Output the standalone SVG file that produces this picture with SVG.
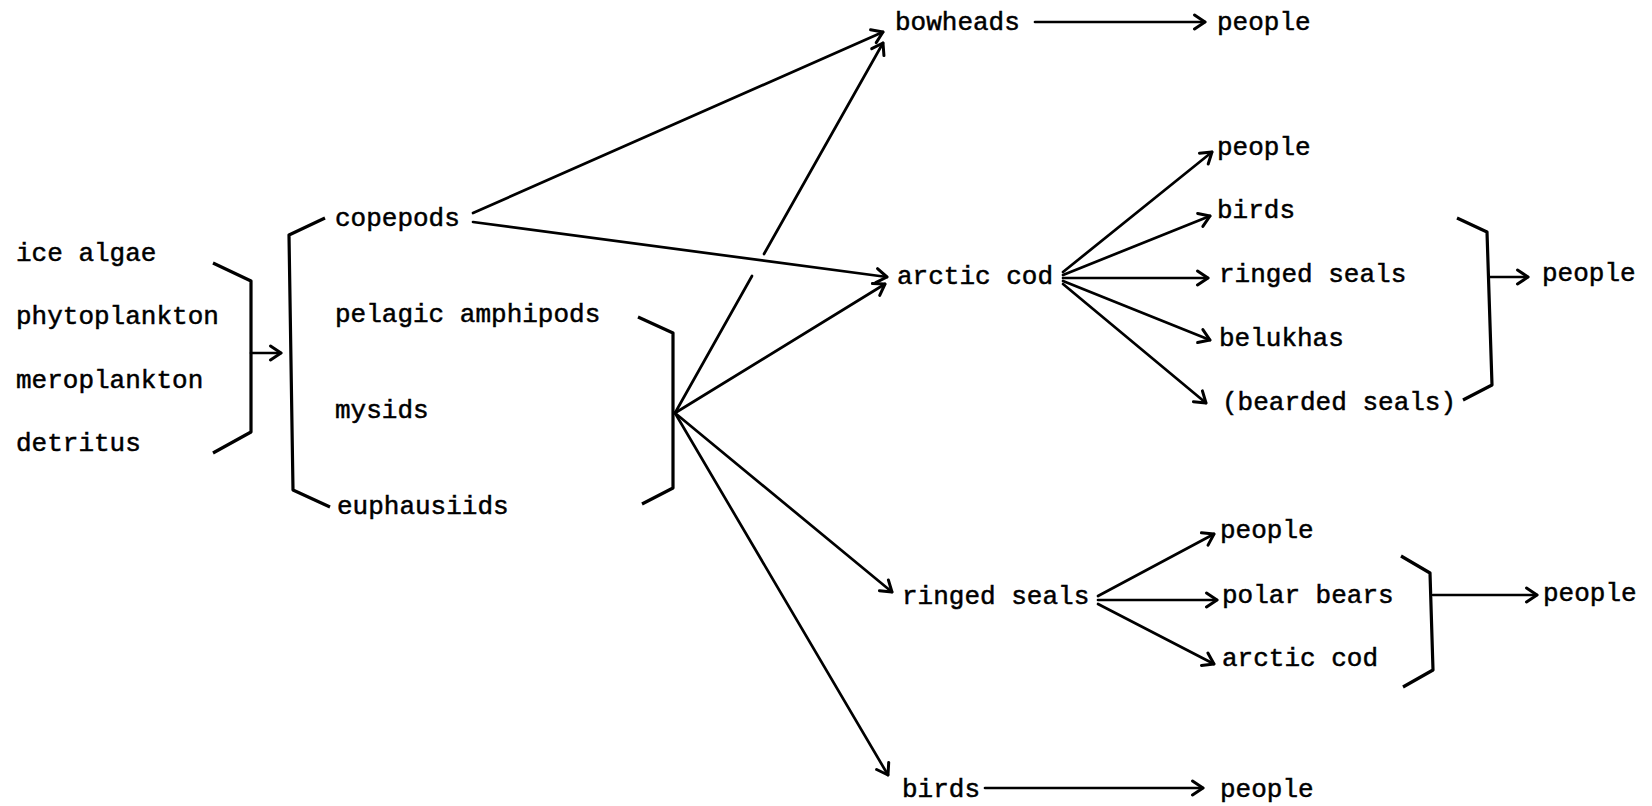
<svg xmlns="http://www.w3.org/2000/svg" width="1652" height="806" viewBox="0 0 1652 806">
<style>
text{font-family:"Liberation Mono","Courier New",monospace;font-size:26px;fill:#000;stroke:#000;stroke-width:0.5}
.ln{fill:none;stroke:#000;stroke-width:2.7;stroke-linecap:round;stroke-linejoin:round}
.br{fill:none;stroke:#000;stroke-width:3.2;stroke-linejoin:round}
.ar{marker-end:url(#ah)}
</style>
<defs>
<marker id="ah" viewBox="0 0 15 18" refX="13" refY="9" markerWidth="15" markerHeight="18" markerUnits="userSpaceOnUse" orient="auto">
<path d="M2.5,2 L13,9 L2.5,16" fill="none" stroke="#000" stroke-width="3" stroke-linecap="round" stroke-linejoin="round"/>
</marker>
</defs>
<rect width="1652" height="806" fill="#fff"/>
<g id="sources">
<text x="16" y="261">ice algae</text>
<text x="16" y="324">phytoplankton</text>
<text x="16" y="388">meroplankton</text>
<text x="16" y="451">detritus</text>
</g>
<g id="zooplankton">
<text x="335" y="226">copepods</text>
<text x="335" y="322">pelagic amphipods</text>
<text x="335" y="418">mysids</text>
<text x="337" y="514">euphausiids</text>
</g>
<g id="bowheads"><text x="895" y="30">bowheads</text></g>
<g id="bowheads-people"><text x="1217" y="30">people</text></g>
<g id="arctic-cod"><text x="897" y="284">arctic cod</text></g>
<g id="cod-people"><text x="1217" y="155">people</text></g>
<g id="cod-birds"><text x="1217" y="218">birds</text></g>
<g id="cod-ringed-seals"><text x="1219" y="282">ringed seals</text></g>
<g id="cod-belukhas"><text x="1219" y="346">belukhas</text></g>
<g id="cod-bearded-seals"><text x="1222" y="410">(bearded seals)</text></g>
<g id="cod-group-people"><text x="1542" y="281">people</text></g>
<g id="ringed-seals"><text x="902" y="604">ringed seals</text></g>
<g id="seal-people"><text x="1220" y="538">people</text></g>
<g id="polar-bears"><text x="1222" y="603">polar bears</text></g>
<g id="seal-arctic-cod"><text x="1222" y="666">arctic cod</text></g>
<g id="seal-group-people"><text x="1543" y="601">people</text></g>
<g id="birds"><text x="902" y="797">birds</text></g>
<g id="birds-people"><text x="1220" y="797">people</text></g>
<g id="connectors">
<path class="br" d="M213,263 L251,281 L251,432 L213,453"/>
<path class="ln ar" d="M251,353 L281,353"/>
<path class="br" d="M325,218 L289,235 L293,490 L330,507"/>
<path class="br" d="M638,317 L673,333 L673,488 L642,504"/>
<path class="ln ar" d="M473,213 L883,32"/>
<path class="ln ar" d="M473,222 L887,277"/>
<path class="ln" d="M675,413 L752,276"/>
<path class="ln ar" d="M764,254 L883,43"/>
<path class="ln ar" d="M675,413 L885,284"/>
<path class="ln ar" d="M675,413 L892,592"/>
<path class="ln ar" d="M675,413 L888,775"/>
<path class="ln ar" d="M1035,22 L1205,22"/>
<path class="ln ar" d="M1063,272 L1212,152"/>
<path class="ln ar" d="M1063,275 L1210,216"/>
<path class="ln ar" d="M1063,278 L1208,278"/>
<path class="ln ar" d="M1063,281 L1210,340"/>
<path class="ln ar" d="M1063,284 L1206,403"/>
<path class="br" d="M1457,218 L1487,232 L1492,385 L1463,400"/>
<path class="ln ar" d="M1490,277 L1528,277"/>
<path class="ln ar" d="M1098,596 L1214,534"/>
<path class="ln ar" d="M1098,600 L1217,600"/>
<path class="ln ar" d="M1098,604 L1214,664"/>
<path class="br" d="M1401,556 L1430,573 L1433,670 L1403,687"/>
<path class="ln ar" d="M1433,595 L1537,595"/>
<path class="ln ar" d="M985,788 L1203,788"/>
</g>
</svg>
